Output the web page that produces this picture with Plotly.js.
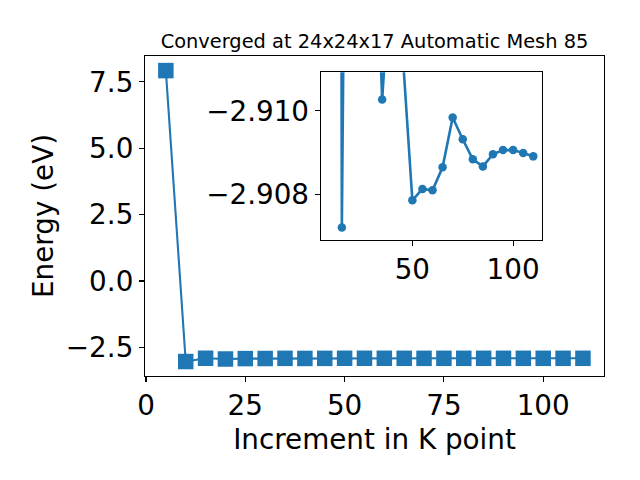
<!DOCTYPE html>
<html>
<head>
<meta charset="utf-8">
<script src="https://cdn.plot.ly/plotly-3.0.1.min.js"></script>
<style>html,body{margin:0;padding:0;background:#fff;}#chart{width:640px;height:480px;}</style>
</head>
<body>
<div id="chart"></div>
<script>
// K-point increments and total energies (eV)
const kpoints = [5, 10, 15, 20, 25, 30, 35, 40, 45, 50, 55, 60, 65, 70, 75, 80, 85, 90, 95, 100, 105, 110];
const energies = [7.92, -3.03, -2.90721, -2.935, -2.920, -2.917, -2.91027, -2.914, -2.9115,
  -2.90786, -2.90813, -2.9081, -2.90865, -2.90984, -2.90932, -2.90884, -2.90867,
  -2.90896, -2.90906, -2.90906, -2.90899, -2.90891];
// inset shows the points from the second one onward
const insetK = kpoints.slice(1);
const insetE = energies.slice(1);
const mainXTicks = [0, 25, 50, 75, 100];
const mainYTicks = [-2.5, 0.0, 2.5, 5.0, 7.5];
const insetXTicks = [50, 100];
const insetYTicks = [-2.910, -2.908];
const titleText = 'Converged at 24x24x17 Automatic Mesh 85';
const xTitle = 'Increment in K point';
const yTitle = 'Energy (eV)';

const blue = '#1f77b4';
const FONT = 'DejaVu Sans, sans-serif';
const TICKF = {family: FONT, size: 27.8, color: '#000'};

const traces = [
  {x: kpoints, y: energies, type: 'scatter', mode: 'lines+markers',
   line: {color: blue, width: 2.1},
   marker: {symbol: 'square', size: 15.5, color: blue},
   xaxis: 'x', yaxis: 'y', hoverinfo: 'skip'},
  {x: insetK, y: insetE, type: 'scatter', mode: 'lines+markers',
   line: {color: blue, width: 2.6},
   marker: {symbol: 'circle', size: 8.5, color: blue},
   xaxis: 'x2', yaxis: 'y2', cliponaxis: true, hoverinfo: 'skip'}
];

const axBase = {showgrid: false, zeroline: false, showline: true, mirror: true,
  linecolor: '#000', linewidth: 1.1, ticks: 'outside', ticklen: 5, tickwidth: 1.1,
  tickcolor: '#000', tickfont: TICKF};

const layout = {
  width: 640, height: 480,
  paper_bgcolor: '#fff', plot_bgcolor: '#fff',
  margin: {l: 145, r: 36, t: 56, b: 104, pad: 0},
  showlegend: false,
  font: {family: FONT, color: '#000'},
  title: {text: titleText, font: {family: FONT, size: 19.4, color: '#000'},
    xref: 'paper', x: 0.5, xanchor: 'center', yref: 'container', y: 1 - 41/480, yanchor: 'middle'},
  xaxis: Object.assign({}, axBase, {domain: [0, 1], range: [-0.25, 115.3],
    tickmode: 'array', tickvals: mainXTicks, ticktext: mainXTicks.map(String),
    anchor: 'y',
    title: {text: xTitle, font: {family: FONT, size: 27.8, color: '#000'}, standoff: 8}}),
  yaxis: Object.assign({}, axBase, {domain: [0, 1], range: [-3.575, 8.47],
    tickmode: 'array', tickvals: mainYTicks, tickformat: '.1f', anchor: 'x',
    title: {text: yTitle, font: {family: FONT, size: 27.8, color: '#000'}, standoff: 4}}),
  xaxis2: Object.assign({}, axBase, {domain: [0.3828, 0.8656], range: [4.5, 114.5],
    tickmode: 'array', tickvals: insetXTicks, anchor: 'y2'}),
  yaxis2: Object.assign({}, axBase, {domain: [0.425, 0.949], range: [-2.90691, -2.91092],
    tickmode: 'array', tickvals: insetYTicks, tickformat: '.3f', anchor: 'x2'})
};

Plotly.newPlot('chart', traces, layout, {displayModeBar: false, staticPlot: true});
</script>
</body>
</html>
